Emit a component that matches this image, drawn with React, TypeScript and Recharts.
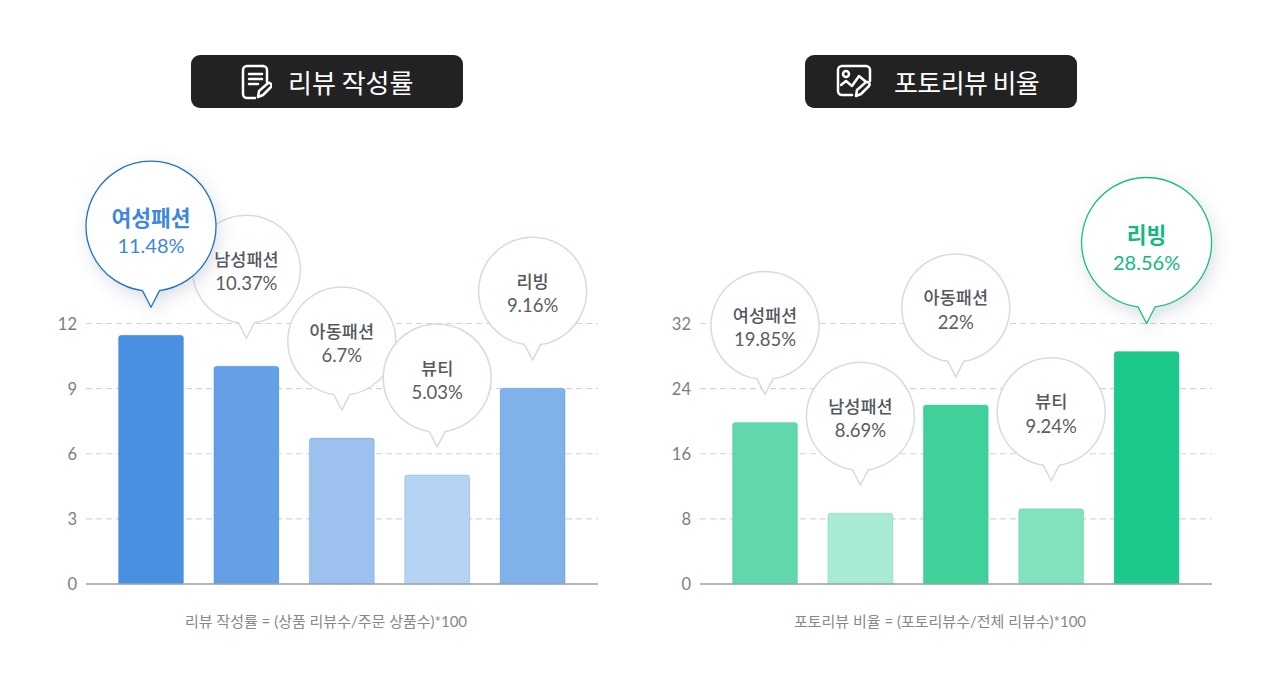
import React from 'react';
import { BarChart, Bar, XAxis, YAxis, CartesianGrid, Cell, LabelList } from 'recharts';

const FONT = "Lato, 'Noto Sans CJK KR', sans-serif";
const KR_FONT = "'Noto Sans CJK KR', sans-serif";

const categories = ['여성패션', '남성패션', '아동패션', '뷰티', '리빙'];

// bar heights, printed labels are separate (they don't always agree)
const reviewBars = [11.46, 10.03, 6.72, 5.02, 9.02];
const reviewLabels = ['11.48%', '10.37%', '6.7%', '5.03%', '9.16%'];
const reviewTicks = [0, 3, 6, 9, 12];
const reviewColors = ['#4a90e2', '#659fe6', '#9cc1ef', '#b6d3f4', '#80b1ea'];

const photoBars = [19.85, 8.69, 22, 9.24, 28.56];
const photoLabels = ['19.85%', '8.69%', '22%', '9.24%', '28.56%'];
const photoTicks = [0, 8, 16, 24, 32];
const photoColors = ['#60d8ac', '#a8ebd2', '#40d09a', '#83e2be', '#1dc98a'];

const makeRows = (bars: number[], labels: string[]) =>
  categories.map((name, i) => ({ name, value: bars[i], label: `${name}|${labels[i]}` }));

// speech bubble sitting above a bar
const Bubble = ({ x, y, width, value, big, accent, text }: any) => {
  const [name, pct] = String(value).split('|');
  const cx = x + width / 2;
  const tip = y - 28;
  const r = big ? 65 : 54;
  const cy = tip - (big ? 81 : 69);
  const half = big ? 8.5 : 8;
  const joinY = cy + Math.sqrt(r * r - half * half);
  return (
    <g>
      <path
        d={`M${cx - half} ${joinY} A${r} ${r} 0 1 1 ${cx + half} ${joinY} L${cx} ${tip} Z`}
        fill="#fff"
        stroke={big ? accent : '#d3dbe4'}
        strokeWidth={big ? 1.3 : 1.5}
        strokeLinejoin="round"
        filter={big ? 'url(#bubbleShadow)' : undefined}
      />
      <text
        x={cx}
        y={cy + (big ? 0 : -3.5)}
        textAnchor="middle"
        fontFamily={KR_FONT}
        fontWeight={big ? 700 : 500}
        fontSize={big ? 21.5 : 17.5}
        fill={big ? text : '#55585e'}
      >
        {name}
      </text>
      <text
        x={cx}
        y={cy + (big ? 27 : 21)}
        textAnchor="middle"
        fontFamily={FONT}
        fontWeight={400}
        fontSize={big ? 20 : 18.5}
        fill={big ? text : '#5a5d63'}
      >
        {pct}
      </text>
    </g>
  );
};

const Chart = ({ left, rows, ticks, colors, focus, accent, text }: any) => (
  <BarChart
    width={600}
    height={464}
    data={rows}
    margin={{ top: 173.5, right: 32, bottom: 29, left: 0 }}
    barCategoryGap={30}
    style={{ position: 'absolute', left, top: 150, overflow: 'visible' }}
  >
    <defs>
      <filter id="bubbleShadow" x="-30%" y="-30%" width="160%" height="160%">
        <feDropShadow dx="3" dy="6" stdDeviation="8" floodColor="#5b6b80" floodOpacity="0.2" />
      </filter>
    </defs>
    <CartesianGrid vertical={false} stroke="#cfd6de" strokeWidth={1.2} strokeDasharray="6 4" syncWithTicks />
    <XAxis
      dataKey="name"
      tick={false}
      tickLine={false}
      height={1}
      axisLine={{ stroke: '#a0a3a8', strokeWidth: 1.3 }}
      padding={{ left: 17.5, right: 17.5 }}
    />
    <YAxis
      width={56}
      domain={[0, ticks[ticks.length - 1]]}
      ticks={ticks}
      axisLine={false}
      tickLine={false}
      tickMargin={3}
      tick={{ fontFamily: FONT, fontWeight: 400, fontSize: 16.5, fill: '#7b7e84', dy: 0.5 }}
    />
    <Bar dataKey="value" barSize={65} radius={[3, 3, 0, 0]} isAnimationActive={false}>
      {rows.map((row: any, i: number) => (
        <Cell key={row.name} fill={colors[i]} stroke={accent} strokeOpacity={0.22} />
      ))}
      <LabelList
        dataKey="label"
        content={(p: any) => (p.index === focus ? null : <Bubble {...p} />)}
      />
      <LabelList
        dataKey="label"
        content={(p: any) =>
          p.index === focus ? <Bubble {...p} big accent={accent} text={text} /> : null
        }
      />
    </Bar>
  </BarChart>
);

const noteIcon = (
  <svg width="32" height="36" viewBox="0 0 32 36" fill="none" stroke="#fff" strokeWidth="2.5" strokeLinecap="round" strokeLinejoin="round">
    <path d="M23 2H7a4 4 0 0 0-4 4v24a4 4 0 0 0 4 4h8" />
    <path d="M23 2a4 4 0 0 1 4 4v12" />
    <path d="M9 10h13M9 15h13M9 20h9" />
    <path d="M18 33l1-6 8-7a2.5 2.5 0 0 1 4 3l-8 8z" />
  </svg>
);

const photoIcon = (
  <svg width="38" height="34" viewBox="0 0 38 34" fill="none" stroke="#fff" strokeWidth="2.5" strokeLinecap="round" strokeLinejoin="round">
    <path d="M17 31H7a4 4 0 0 1-4-4V6a4 4 0 0 1 4-4h24a4 4 0 0 1 4 4v11" />
    <circle cx="11" cy="10" r="3" />
    <path d="M6 21l5-4 6 5 7-10 6 5" />
    <path d="M21 32l1-6 8-7a2.5 2.5 0 0 1 4 3l-8 8z" />
  </svg>
);

const Title = ({ left, icon, iconLeft, textLeft, label, spacing }: any) => (
  <div
    style={{
      position: 'absolute',
      left,
      top: 55,
      width: 272,
      height: 53,
      borderRadius: 9,
      background: '#222222',
    }}
  >
    <div style={{ position: 'absolute', left: iconLeft, top: 9 }}>{icon}</div>
    <div
      style={{
        position: 'absolute',
        left: textLeft,
        top: 0,
        lineHeight: '53px',
        fontFamily: KR_FONT,
        fontWeight: 400,
        fontSize: 26,
        letterSpacing: spacing,
        color: '#fff',
        whiteSpace: 'nowrap',
      }}
    >
      {label}
    </div>
  </div>
);

const Footnote = ({ center, label }: any) => (
  <div
    style={{
      position: 'absolute',
      left: center - 250,
      width: 500,
      top: 610,
      textAlign: 'center',
      fontFamily: FONT,
      fontWeight: 400,
      fontSize: 15,
      color: '#85888e',
    }}
  >
    {label}
  </div>
);

export default function App() {
  return (
    <div style={{ position: 'absolute', left: 0, top: 0, width: 1280, height: 694, background: '#fff', overflow: 'hidden' }}>
      <Title left={191} icon={noteIcon} iconLeft={49} textLeft={97} label="리뷰 작성률" />
      <Title left={805} icon={photoIcon} iconLeft={30} textLeft={89} spacing={-0.6} label="포토리뷰 비율" />
      <Chart
        left={30}
        rows={makeRows(reviewBars, reviewLabels)}
        ticks={reviewTicks}
        colors={reviewColors}
        focus={0}
        accent="#1f72c9"
        text="#3d87de"
      />
      <Chart
        left={644}
        rows={makeRows(photoBars, photoLabels)}
        ticks={photoTicks}
        colors={photoColors}
        focus={4}
        accent="#17bf85"
        text="#12b97e"
      />
      <Footnote center={326} label="리뷰 작성률 = (상품 리뷰수/주문 상품수)*100" />
      <Footnote center={940} label="포토리뷰 비율 = (포토리뷰수/전체 리뷰수)*100" />
    </div>
  );
}
